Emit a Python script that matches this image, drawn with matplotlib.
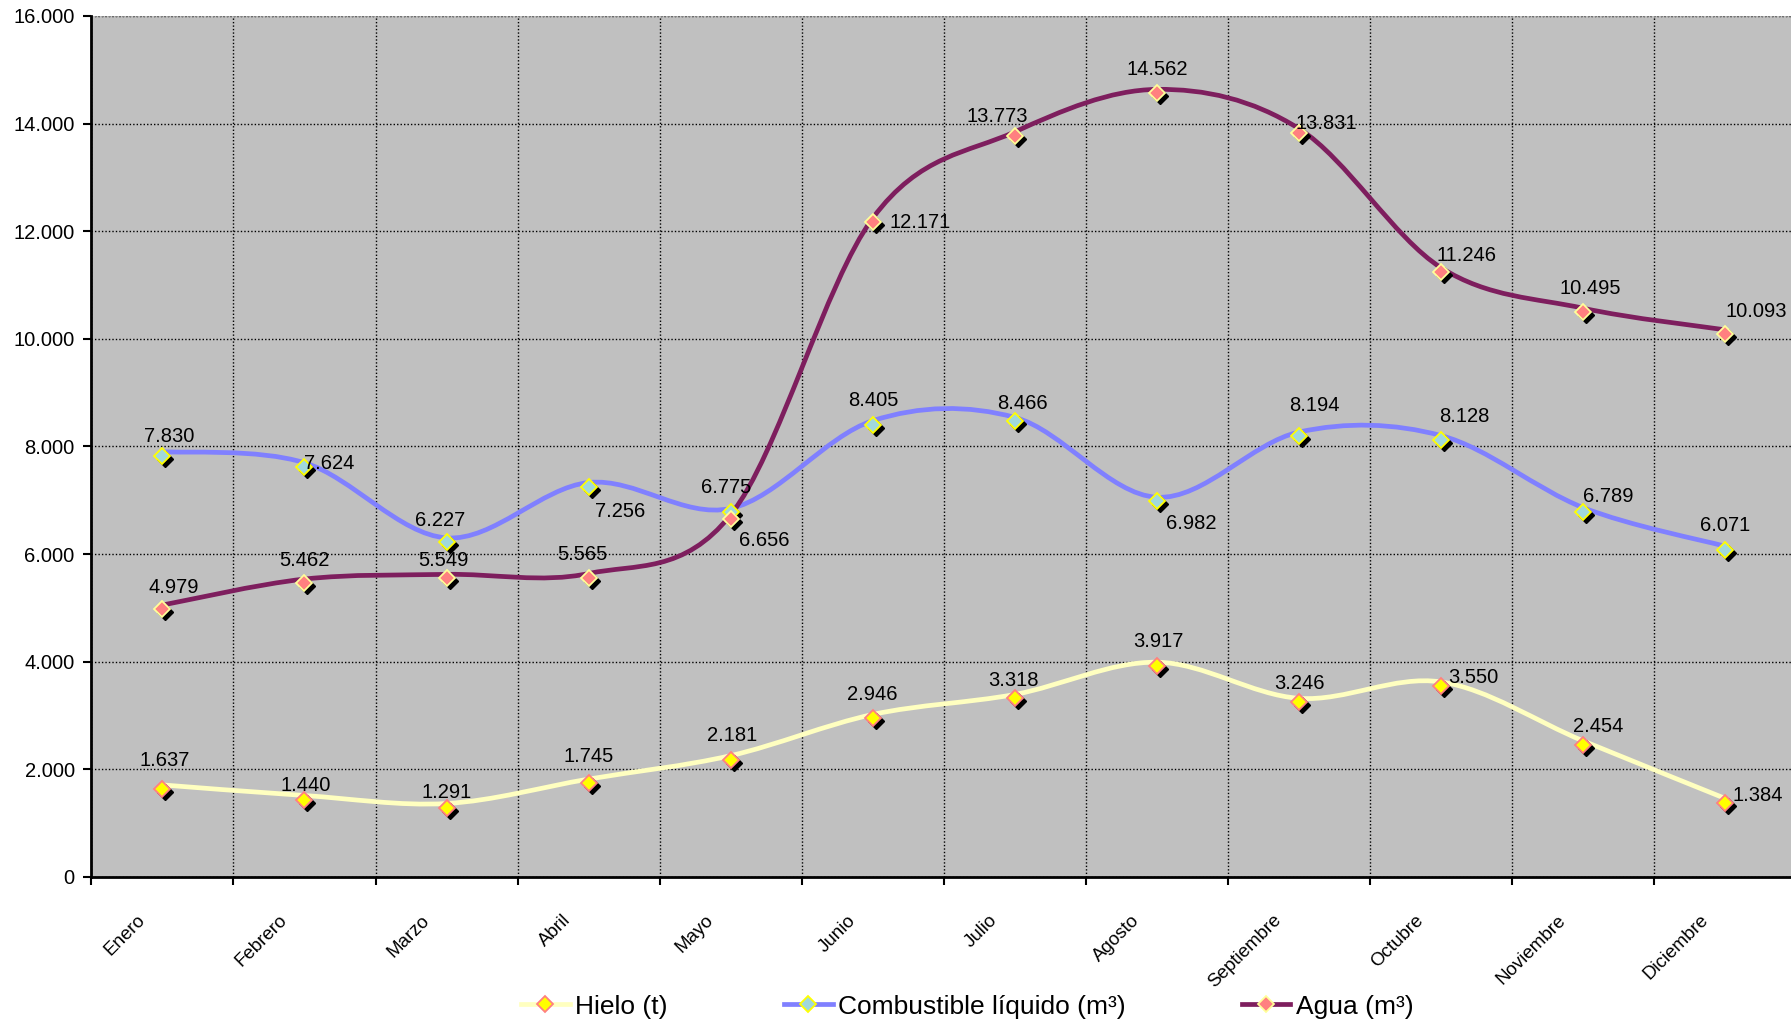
import numpy as np
import matplotlib
matplotlib.use("Agg")
import matplotlib.pyplot as plt
from matplotlib.path import Path
from matplotlib.patches import PathPatch
from matplotlib.lines import Line2D
from matplotlib import ticker as tick
from matplotlib.transforms import ScaledTranslation

plt.rcParams['font.family'] = ['Liberation Sans', 'DejaVu Sans']

meses = ["Enero", "Febrero", "Marzo", "Abril", "Mayo", "Junio", "Julio",
         "Agosto", "Septiembre", "Octubre", "Noviembre", "Diciembre"]
hielo = [1637, 1440, 1291, 1745, 2181, 2946, 3318, 3917, 3246, 3550, 2454, 1384]
combustible = [7830, 7624, 6227, 7256, 6775, 8405, 8466, 6982, 8194, 8128, 6789, 6071]
agua = [4979, 5462, 5549, 5565, 6656, 12171, 13773, 14562, 13831, 11246, 10495, 10093]
nombres = ["Hielo (t)", "Combustible líquido (m³)", "Agua (m³)"]

# estilo: color linea, relleno marcador, borde marcador
estilos = [("#FFFFC0", "#FFFF00", "#FF8080"),
           ("#8080FF", "#A0D8DC", "#FFFF00"),
           ("#7E1E5E", "#FF8080", "#FFFF99")]

# desplazamiento de las etiquetas (pixeles)
offs = [
    [(2, 28), (1, 14), (0, 15), (0, 27), (1, 24), (-1, 24), (-1, 18), (1, 25), (0, 19), (32, 8), (15, 18), (32, 7)],
    [(7, 19), (25, 3), (-6, 21), (31, -25), (-5, 25), (0, 24), (8, 18), (34, -22), (15, 31), (23, 23), (25, 15), (0, 25)],
    [(11, 22), (0, 23), (-3, 18), (-6, 23), (34, -22), (47, 0), (-18, 19), (0, 24), (27, 9), (25, 16), (7, 24), (31, 22)],
]


def miles(v, pos=None):
    return f"{int(v):,}".replace(",", ".")


def suave(x, y):
    # curva bezier tipo Excel
    pts = np.column_stack([x, y]).astype(float)
    n = len(pts)
    verts = [pts[0]]
    codes = [Path.MOVETO]
    for i in range(n - 1):
        p0 = pts[max(i - 1, 0)]
        p1 = pts[i]
        p2 = pts[i + 1]
        p3 = pts[min(i + 2, n - 1)]
        c1 = p1 + (p2 - p0) / 6.0
        c2 = p2 - (p3 - p1) / 6.0
        verts += [c1, c2, p2]
        codes += [Path.CURVE4] * 3
    return Path(verts, codes)


fig = plt.figure(figsize=(17.91, 10.25), dpi=100)
ax = fig.add_axes([0.051, 0.1444, 0.952, 0.840])
ax.set_facecolor("#C0C0C0")

x = np.arange(len(meses))
series = [hielo, combustible, agua]

linea_tr = ax.transData + ScaledTranslation(0, 4 / 100, fig.dpi_scale_trans)
sombra_tr = ax.transData + ScaledTranslation(3 / 100, -3 / 100, fig.dpi_scale_trans)

for k, datos in enumerate(series):
    col, relleno, borde = estilos[k]
    patch = PathPatch(suave(x, datos), facecolor="none", edgecolor=col, lw=3.4,
                      transform=linea_tr, zorder=3 + k * 0.1, capstyle="round")
    ax.add_patch(patch)

for k, datos in enumerate(series):
    col, relleno, borde = estilos[k]
    ax.plot(x, datos, ls="none", marker="D", ms=8.5, mfc="black", mec="black",
            transform=sombra_tr, zorder=4 + k * 0.1)
    ax.plot(x, datos, ls="none", marker="D", ms=8.5, mfc=relleno, mec=borde,
            mew=1.3, zorder=4.05 + k * 0.1)
    for i, v in enumerate(datos):
        ax.annotate(miles(v), (x[i], v), xytext=offs[k][i], textcoords="offset pixels",
                    ha="center", va="center", fontsize=14.5, color="black", zorder=6)

ax.set_xlim(-0.5, 11.5)
ax.set_ylim(0, 16000)
ax.yaxis.set_major_locator(tick.MultipleLocator(2000))
ax.yaxis.set_major_formatter(tick.FuncFormatter(miles))
ax.tick_params(axis="y", direction="out", length=6, width=1.5, labelsize=14.5, pad=6)

ax.set_xticks(x)
ax.set_xticklabels(meses, rotation=45, ha="right", va="top", fontsize=13.5)
ax.set_xticks(np.arange(-0.5, 12, 1), minor=True)
ax.tick_params(axis="x", which="major", length=0, pad=25)
ax.tick_params(axis="x", which="minor", direction="out", length=6, width=1.5)
for lbl in ax.get_xticklabels():
    lbl.set_transform(lbl.get_transform() + ScaledTranslation(-14 / 100, 0, fig.dpi_scale_trans))

ax.grid(True, axis="y", which="major", color="black", ls=(0, (1, 1.5)), lw=1)
ax.grid(True, axis="x", which="minor", color="black", ls=(0, (1, 1.5)), lw=1)
ax.set_axisbelow(True)

for s in ["top", "right"]:
    ax.spines[s].set_visible(False)
for s in ["left", "bottom"]:
    ax.spines[s].set_linewidth(2)
    ax.spines[s].set_zorder(7)
ax.axhline(16000, color="#808080", ls=(0, (1, 1.5)), lw=1)

handles = []
for k in range(3):
    col, relleno, borde = estilos[k]
    handles.append(Line2D([], [], color=col, lw=3.4, marker="D", ms=8.5,
                          mfc=relleno, mec=borde, mew=1.3))
fig.legend(handles, nombres, loc="center", bbox_to_anchor=(0.54, 0.018), ncol=3,
           frameon=False, fontsize=19, handlelength=1.85, handletextpad=0.2,
           columnspacing=4.4)

fig.savefig("out.png", dpi=100)
